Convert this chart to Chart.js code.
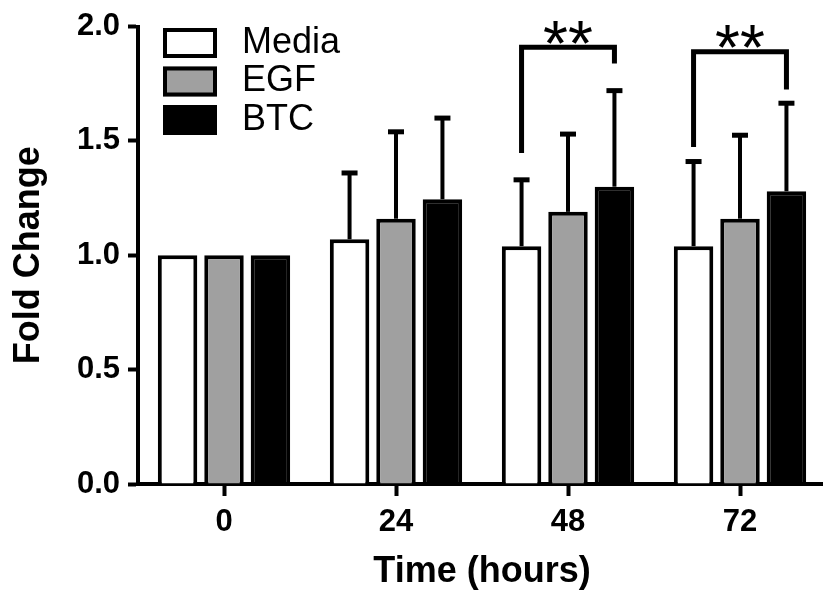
<!DOCTYPE html>
<html>
<head>
<meta charset="utf-8">
<script src="https://cdn.jsdelivr.net/npm/chart.js@4.4.1/dist/chart.umd.min.js"></script>
<style>
  html, body { margin: 0; padding: 0; background: #fff; overflow: hidden; }
</style>
</head>
<body>
<canvas id="chart" width="826" height="593"></canvas>
<script>
// Fold change over time, mean + upper SD
const hours = ['0', '24', '48', '72'];
const seriesNames = ['Media', 'EGF', 'BTC'];
const mediaMean = [1.00, 1.07, 1.04, 1.04];
const egfMean = [1.00, 1.16, 1.19, 1.16];
const btcMean = [1.00, 1.245, 1.30, 1.28];
const mediaSD = [0, 0.29, 0.29, 0.37];
const egfSD = [0, 0.38, 0.34, 0.365];
const btcSD = [0, 0.355, 0.42, 0.385];
const yTicks = [0, 0.5, 1.0, 1.5, 2.0];

// significance brackets (Media vs BTC)
const sigGroups = [2, 3];
const sigTop = [1.91, 1.89];
const sigLeftFoot = [1.447, 1.473];
const sigRightFoot = [1.839, 1.725];
const sigLabels = ['**', '**'];

const means = [mediaMean, egfMean, btcMean];
const sds = [mediaSD, egfSD, btcSD];
const fills = ['#ffffff', '#a0a0a0', '#000000'];
const FONT = '"Liberation Sans", Arial, sans-serif';

const errorBars = {
  id: 'errorBars',
  afterDatasetsDraw(chart) {
    const { ctx } = chart;
    const y = chart.scales.y;
    ctx.save();
    ctx.strokeStyle = '#000';
    ctx.lineWidth = 4;
    sds.forEach((sd, i) => {
      chart.getDatasetMeta(i).data.forEach((bar, j) => {
        if (!sd[j]) return;
        const top = y.getPixelForValue(means[i][j] + sd[j]);
        ctx.beginPath();
        ctx.moveTo(bar.x, bar.y);
        ctx.lineTo(bar.x, top);
        ctx.stroke();
        ctx.lineWidth = 5;
        ctx.beginPath();
        ctx.moveTo(bar.x - 8, top);
        ctx.lineTo(bar.x + 8, top);
        ctx.stroke();
        ctx.lineWidth = 4;
      });
    });
    ctx.restore();
  }
};

const brackets = {
  id: 'brackets',
  afterDatasetsDraw(chart) {
    const { ctx } = chart;
    const y = chart.scales.y;
    const left = chart.getDatasetMeta(0).data;
    const right = chart.getDatasetMeta(2).data;
    ctx.save();
    ctx.strokeStyle = '#000';
    ctx.fillStyle = '#000';
    ctx.lineWidth = 5;
    ctx.lineJoin = 'miter';
    ctx.font = '64px ' + FONT;
    ctx.textAlign = 'center';
    ctx.textBaseline = 'alphabetic';
    sigGroups.forEach((g, k) => {
      const xl = left[g].x, xr = right[g].x;
      const yt = y.getPixelForValue(sigTop[k]);
      ctx.beginPath();
      ctx.moveTo(xl, y.getPixelForValue(sigLeftFoot[k]));
      ctx.lineTo(xl, yt);
      ctx.lineTo(xr, yt);
      ctx.lineTo(xr, y.getPixelForValue(sigRightFoot[k]));
      ctx.stroke();
      const m = ctx.measureText(sigLabels[k]);
      const mid = (m.actualBoundingBoxAscent - m.actualBoundingBoxDescent) / 2;
      ctx.fillText(sigLabels[k], (xl + xr) / 2, yt - 15 + mid);
    });
    ctx.restore();
  }
};

const boxLegend = {
  id: 'boxLegend',
  afterDraw(chart) {
    const { ctx } = chart;
    ctx.save();
    ctx.font = '36px ' + FONT;
    ctx.textBaseline = 'middle';
    ctx.textAlign = 'left';
    chart.data.datasets.forEach((ds, i) => {
      const top = 28 + i * 38.5;
      ctx.fillStyle = ds.backgroundColor;
      ctx.fillRect(163, top, 54, 30);
      ctx.strokeStyle = '#000';
      ctx.lineWidth = 4;
      ctx.strokeRect(165, top + 2, 50, 26);
      ctx.fillStyle = '#000';
      ctx.fillText(ds.label, 242, top + 15);
    });
    ctx.restore();
  }
};

const tickFont = { family: FONT, size: 31, weight: 'bold' };
const titleFont = { family: FONT, size: 36, weight: 'bold', lineHeight: 1 };

new Chart(document.getElementById('chart'), {
  type: 'bar',
  data: {
    labels: hours,
    datasets: seriesNames.map((name, i) => ({
      label: name,
      data: means[i],
      backgroundColor: fills[i],
      borderColor: '#000',
      borderWidth: 4,
      categoryPercentage: 0.81,
      barPercentage: 0.85
    }))
  },
  options: {
    responsive: false,
    animation: false,
    layout: { padding: { top: 25, left: 0, right: 0, bottom: 0 } },
    plugins: { legend: { display: false }, tooltip: { enabled: false } },
    scales: {
      x: {
        grid: { offset: false, drawOnChartArea: false, color: '#000', tickLength: 12, tickWidth: 4 },
        border: { color: '#000', width: 4 },
        ticks: { color: '#000', font: tickFont, padding: 8, maxRotation: 0 },
        title: { display: true, text: 'Time (hours)', color: '#000', font: titleFont, padding: { top: 0, bottom: 3 } },
        afterFit: (s) => { s.height = 109; }
      },
      y: {
        min: 0,
        max: 2,
        afterBuildTicks: (s) => { s.ticks = yTicks.map((v) => ({ value: v })); },
        grid: { drawOnChartArea: false, color: '#000', tickLength: 10, tickWidth: 4 },
        border: { color: '#000', width: 4 },
        ticks: { color: '#000', font: tickFont, padding: 8, callback: (v) => Number(v).toFixed(1) },
        title: { display: true, text: 'Fold Change', color: '#000', font: titleFont, padding: { top: 11, bottom: 0 } },
        afterFit: (s) => { s.width = 138; }
      }
    }
  },
  plugins: [errorBars, brackets, boxLegend]
});
</script>
</body>
</html>
